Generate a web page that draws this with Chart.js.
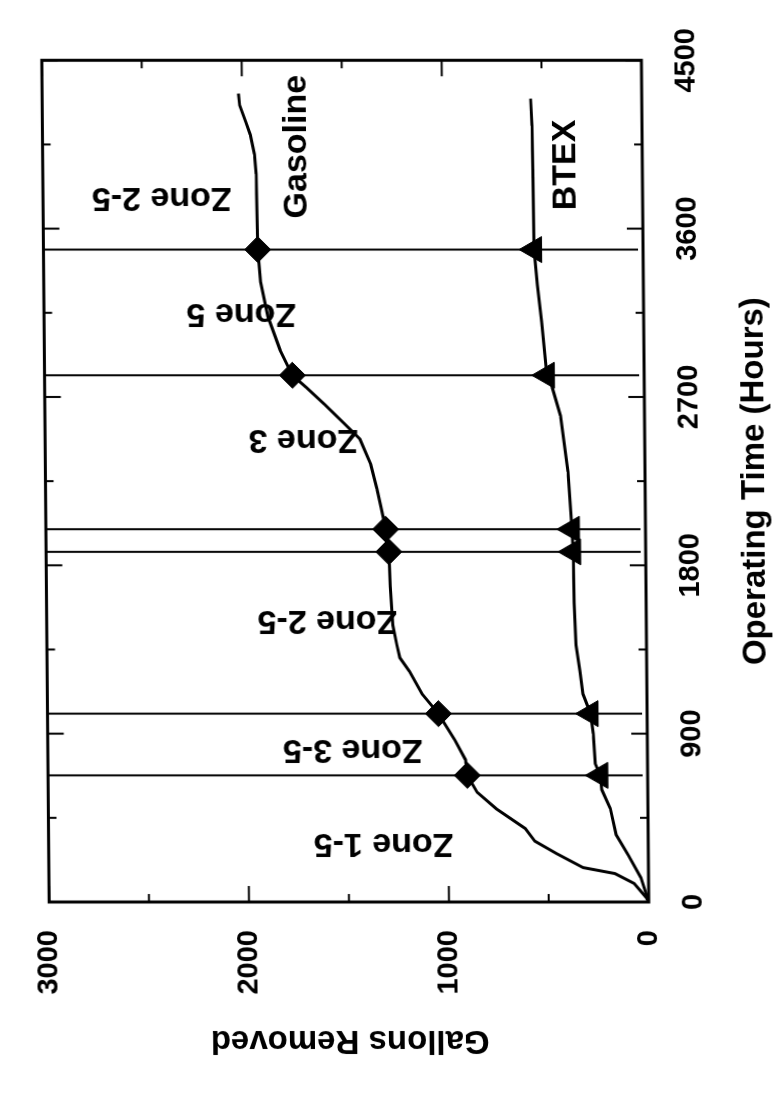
<!DOCTYPE html>
<html>
<head>
<meta charset="utf-8">
<script src="https://cdn.jsdelivr.net/npm/chart.js@4.4.1/dist/chart.umd.min.js"></script>
<style>
  html, body { margin: 0; padding: 0; background: #fff; }
  #page { position: relative; width: 775px; height: 1101px; overflow: hidden;
          transform: skewX(0.5deg); transform-origin: 333px 473px; }
  #turn { position: absolute; left: 0; top: 0; width: 1101px; height: 775px;
          transform-origin: 0 0; transform: translateY(1101px) rotate(-90deg); }
</style>
</head>
<body>
<div id="page"><div id="turn"><canvas id="chart" width="1101" height="775"></canvas></div></div>
<script>
// cumulative removal
const gasHours = [0, 26, 99, 152, 184, 257, 325, 393, 498, 587, 677, 761, 866, 1007, 1112, 1233, 1306, 1374, 1480, 1690, 1872, 1993, 2110, 2210, 2340, 2475, 2555, 2660, 2750, 2816, 2950, 3130, 3315, 3488, 3682, 3892, 3997, 4102, 4170, 4259, 4322];
const gasGallons = [0, 14, 72, 168, 327, 456, 567, 615, 758, 854, 902, 911, 963, 1044, 1125, 1187, 1235, 1249, 1268, 1280, 1285, 1300, 1322, 1342, 1372, 1425, 1500, 1600, 1690, 1760, 1820, 1880, 1915, 1928, 1930, 1933, 1940, 1960, 1982, 2012, 2017];

const btexHours = [0, 130, 250, 360, 500, 600, 677, 740, 900, 1007, 1112, 1233, 1374, 1600, 1872, 1993, 2300, 2600, 2750, 2816, 3100, 3300, 3488, 3900, 4150, 4295];
const btexGallons = [0, 38, 100, 160, 188, 230, 237, 262, 270, 283, 320, 334, 353, 360, 363, 368, 385, 420, 460, 487, 510, 530, 545, 548, 550, 556];

// zone change times and the marker values on each curve
const zoneHours = [677, 1007, 1872, 1993, 2816, 3488];
const gasMarks = [902, 1044, 1285, 1300, 1760, 1928];
const btexMarks = [237, 283, 363, 368, 487, 545];

const zoneNames = ["Zone 1-5", "Zone 3-5", "Zone 2-5", "Zone 3", "Zone 5", "Zone 2-5"];
const zoneLabelHours = [315, 818, 1505, 2475, 3147, 3765];
const zoneLabelGallons = [1324, 1474, 1595, 1708, 2013, 2406];

const hourTicks = [0, 450, 900, 1350, 1800, 2250, 2700, 3150, 3600, 4050, 4500];
const hourLabels = [0, 900, 1800, 2700, 3600, 4500];
const gallonTicks = [0, 500, 1000, 1500, 2000, 2500, 3000];
const gallonLabels = [0, 1000, 2000, 3000];

const FONT = "'Liberation Sans', Arial, sans-serif";

const pts = (xs, ys) => xs.map((v, i) => ({ x: v, y: ys[i] }));

const framePlugin = {
  id: "frame",
  beforeDatasetsDraw(chart) {
    const { ctx, chartArea: a, scales: { x, y } } = chart;
    ctx.save();
    ctx.strokeStyle = "#000";
    ctx.fillStyle = "#000";

    // zone boundaries
    ctx.lineWidth = 2;
    zoneHours.forEach((h) => {
      const px = x.getPixelForValue(h);
      ctx.beginPath();
      ctx.moveTo(px, y.getPixelForValue(3000));
      ctx.lineTo(px, y.getPixelForValue(25));
      ctx.stroke();
    });

    // inward ticks on all four sides
    hourTicks.forEach((h) => {
      const px = x.getPixelForValue(h);
      const len = hourLabels.includes(h) ? 16 : 8;
      ctx.beginPath();
      ctx.moveTo(px, a.bottom); ctx.lineTo(px, a.bottom - len);
      ctx.moveTo(px, a.top); ctx.lineTo(px, a.top + len);
      ctx.stroke();
    });
    gallonTicks.forEach((g) => {
      const py = y.getPixelForValue(g);
      const len = gallonLabels.includes(g) ? 16 : 8;
      ctx.beginPath();
      ctx.moveTo(a.left, py); ctx.lineTo(a.left + len, py);
      ctx.moveTo(a.right, py); ctx.lineTo(a.right - len, py);
      ctx.stroke();
    });

    ctx.lineWidth = 3;
    ctx.strokeRect(a.left, a.top, a.width, a.height);

    // zone names (upside down on the page)
    ctx.font = "bold 34px " + FONT;
    ctx.textAlign = "center";
    ctx.textBaseline = "middle";
    zoneNames.forEach((name, i) => {
      ctx.save();
      ctx.translate(x.getPixelForValue(zoneLabelHours[i]), y.getPixelForValue(zoneLabelGallons[i]));
      ctx.rotate(-Math.PI / 2);
      ctx.fillText(name, 0, 0);
      ctx.restore();
    });

    // series names
    ctx.font = "bold 34px " + FONT;
    ctx.fillText("Gasoline", x.getPixelForValue(4038), y.getPixelForValue(1727));
    ctx.fillText("BTEX", x.getPixelForValue(3940), y.getPixelForValue(383));
    ctx.restore();
  },
};

const tickFont = { family: FONT, size: 29, weight: "bold" };
const titleFont = { family: FONT, size: 33, weight: "bold" };

new Chart(document.getElementById("chart").getContext("2d"), {
  type: "scatter",
  data: {
    datasets: [
      { data: pts(gasHours, gasGallons), showLine: true, borderColor: "#000", borderWidth: 3, pointRadius: 0, tension: 0 },
      { data: pts(btexHours, btexGallons), showLine: true, borderColor: "#000", borderWidth: 3, pointRadius: 0, tension: 0 },
      { data: pts(zoneHours, gasMarks), showLine: false, pointStyle: "rectRot", pointRadius: 13, backgroundColor: "#000", borderColor: "#000" },
      { data: pts(zoneHours, btexMarks), showLine: false, pointStyle: "triangle", pointRadius: 15, backgroundColor: "#000", borderColor: "#000" },
    ],
  },
  options: {
    responsive: false,
    animation: false,
    layout: { padding: { top: 21.5, right: 44, left: 0, bottom: 0 } },
    plugins: { legend: { display: false }, tooltip: { enabled: false } },
    scales: {
      x: {
        type: "linear",
        min: 0,
        max: 4500,
        afterBuildTicks: (s) => { s.ticks = hourTicks.map((v) => ({ value: v })); },
        afterFit: (s) => { s.height = 130; },
        ticks: {
          autoSkip: false,
          maxRotation: 0,
          padding: 28,
          color: "#000",
          font: tickFont,
          callback: (v) => (hourLabels.includes(v) ? String(v) : ""),
        },
        grid: { display: false, drawTicks: false },
        border: { display: false },
        title: { display: true, text: "Operating Time (Hours)", color: "#000", font: titleFont, padding: { top: 0, bottom: 0 } },
      },
      y: {
        type: "linear",
        min: 0,
        max: 3000,
        afterBuildTicks: (s) => { s.ticks = gallonTicks.map((v) => ({ value: v })); },
        afterFit: (s) => { s.width = 199; },
        ticks: {
          autoSkip: false,
          padding: 28,
          color: "#000",
          font: tickFont,
          callback: (v) => (gallonLabels.includes(v) ? String(v) : ""),
        },
        grid: { display: false, drawTicks: false },
        border: { display: false },
        title: { display: true, text: "Gallons Removed", color: "#000", font: titleFont, padding: { top: 41, bottom: 0 } },
      },
    },
  },
  plugins: [framePlugin],
});
</script>
</body>
</html>
